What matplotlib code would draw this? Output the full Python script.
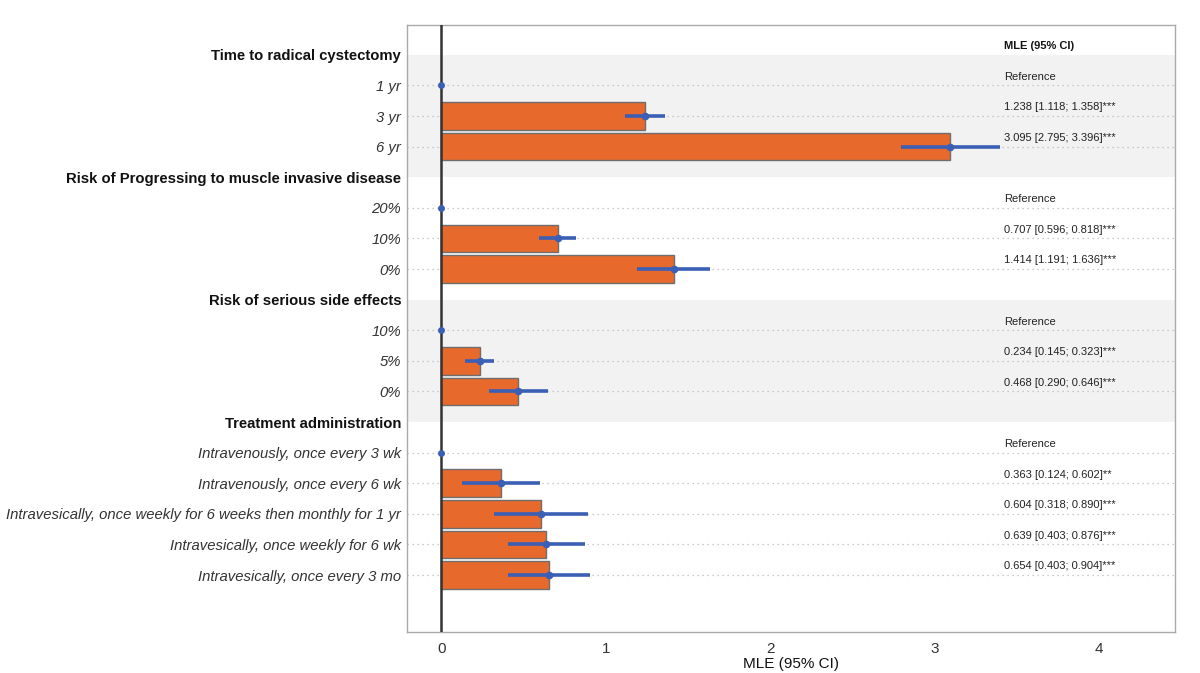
import numpy as np
import matplotlib.pyplot as plt

plt.rcParams['font.family'] = ['Liberation Sans', 'DejaVu Sans']

# rows from top to bottom, headers have no value
labels = ['Time to radical cystectomy', '1 yr', '3 yr', '6 yr',
          'Risk of Progressing to muscle invasive disease', '20%', '10%', '0%',
          'Risk of serious side effects', '10%', '5%', '0%',
          'Treatment administration',
          'Intravenously, once every 3 wk', 'Intravenously, once every 6 wk',
          'Intravesically, once weekly for 6 weeks then monthly for 1 yr',
          'Intravesically, once weekly for 6 wk', 'Intravesically, once every 3 mo']
is_header = [True, False, False, False, True, False, False, False,
             True, False, False, False, True, False, False, False, False, False]
mle = [None, 0, 1.238, 3.095, None, 0, 0.707, 1.414, None, 0, 0.234, 0.468,
       None, 0, 0.363, 0.604, 0.639, 0.654]
lo = [None, 0, 1.118, 2.795, None, 0, 0.596, 1.191, None, 0, 0.145, 0.290,
      None, 0, 0.124, 0.318, 0.403, 0.403]
hi = [None, 0, 1.358, 3.396, None, 0, 0.818, 1.636, None, 0, 0.323, 0.646,
      None, 0, 0.602, 0.890, 0.876, 0.904]
stars = [None, '', '***', '***', None, '', '***', '***', None, '', '***', '***',
         None, '', '**', '***', '***', '***']
shaded_groups = [(0, 4), (8, 12)]

orange = '#E8692C'
blue = '#3A5FB5'

fig = plt.figure(figsize=(12, 6.73), dpi=100)
ax = fig.add_axes([0.339, 0.061, 0.640, 0.902])

ypos = np.arange(len(labels))
for a, b in shaded_groups:
    ax.axhspan(a, b, color='#F2F2F2', zorder=0, lw=0)

for i, lab in enumerate(labels):
    if is_header[i]:
        continue
    ax.axhline(i, color='#BBBBBB', ls=(0, (1, 3)), lw=0.9, zorder=1)
    v = mle[i]
    if v > 0:
        ax.barh(i, v, height=0.9, color=orange, edgecolor='#6E6E6E', lw=1, zorder=2)
        ax.plot([lo[i], hi[i]], [i, i], color=blue, lw=2.6, solid_capstyle='butt', zorder=3)
        ax.plot(v, i, 'o', color=blue, ms=4.5, zorder=4)
        txt = f'{v:.3f} [{lo[i]:.3f}; {hi[i]:.3f}]{stars[i]}'
    else:
        ax.plot(0, i, 'o', color=blue, ms=4, zorder=4)
        txt = 'Reference'
    ax.text(3.42, i - 0.12, txt, fontsize=8, color='#222222', va='bottom', ha='left')

ax.text(3.42, -0.12, 'MLE (95% CI)', fontsize=8, fontweight='bold', color='#111111',
        va='bottom', ha='left')

ax.axvline(0, color='#333333', lw=1.8, zorder=3)

ax.set_xlim(-0.21, 4.46)
ax.set_ylim(18.86, -0.98)
ax.set_xticks([0, 1, 2, 3, 4])
ax.set_yticks(ypos)
ax.set_yticklabels(labels)
for t, h in zip(ax.get_yticklabels(), is_header):
    if h:
        t.set_fontweight('bold')
        t.set_fontsize(10.7)
        t.set_color('#111111')
    else:
        t.set_fontstyle('italic')
        t.set_fontsize(10.7)
        t.set_color('#333333')
ax.tick_params(axis='y', length=0, pad=4)
ax.tick_params(axis='x', length=0, labelsize=11, labelcolor='#333333', pad=7)
ax.set_xlabel('MLE (95% CI)', fontsize=11, color='#111111', labelpad=1)
for s in ax.spines.values():
    s.set_color('#AAAAAA')
    s.set_linewidth(1)

fig.savefig('out.png', dpi=100)
